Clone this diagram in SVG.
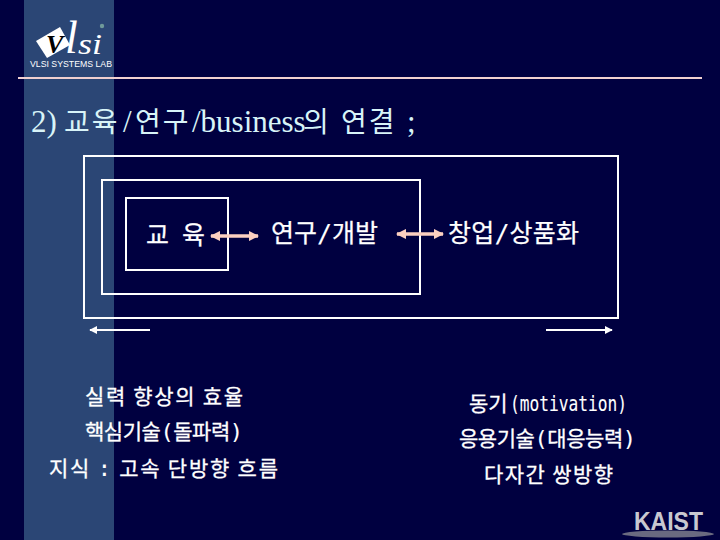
<svg xmlns="http://www.w3.org/2000/svg" width="720" height="540" viewBox="0 0 720 540">
<style>
.k{font-family:"Noto Sans CJK KR","DejaVu Sans",sans-serif;fill:#fff;font-size:25px;stroke:#fff;stroke-width:.25}
.s{font-family:"Noto Sans CJK KR","DejaVu Sans",sans-serif;fill:#fff;font-size:21px;stroke:#fff;stroke-width:.3}
.m{font-family:"DejaVu Sans Mono","Liberation Mono",monospace;font-size:22px;stroke-width:.1}
.n{font-family:"DejaVu Sans Mono","Liberation Mono",monospace;font-size:25px;stroke-width:.1}
.t{font-family:"Liberation Serif","Noto Sans CJK KR",serif;fill:#d8f4f8;font-size:31px}
.h{font-family:"Noto Sans CJK KR","DejaVu Sans",sans-serif;font-size:28px;letter-spacing:2px}
.b{fill:none;stroke:#fff;stroke-width:2}
.p{stroke:#fcd0c0;stroke-width:3.5;fill:none}
.w{stroke:#fff;stroke-width:2;fill:none}
</style>
<defs>
<marker id="pa" viewBox="0 0 10 10" refX="9" refY="5" markerWidth="3" markerHeight="3" markerUnits="strokeWidth" orient="auto-start-reverse"><path d="M0 0L10 5L0 10Z" fill="#fcd0c0"/></marker>
<marker id="wa" viewBox="0 0 10 10" refX="9" refY="5" markerWidth="4" markerHeight="4" markerUnits="strokeWidth" orient="auto"><path d="M0 0L10 5L0 10Z" fill="#fff"/></marker>
</defs>
<rect width="720" height="540" fill="#000040"/>
<rect x="24" y="0" width="90" height="540" fill="#2b4675"/>
<g id="logo">
<polygon points="36,41 60,27 70,45 47,58" fill="#fff"/>
<text x="46" y="53" font-family="Liberation Serif,serif" font-style="italic" font-weight="700" font-size="26" fill="#000">V</text>
<text x="65" y="53" font-family="Liberation Serif,serif" font-style="italic" font-size="46" fill="#fff">l</text>
<text x="78" y="54" font-family="Liberation Serif,serif" font-style="italic" font-size="30" fill="#fff" textLength="24" lengthAdjust="spacingAndGlyphs">si</text>
<circle cx="102" cy="26" r="2.2" fill="#6f9a9a"/>
<text x="30" y="67" font-family="Liberation Sans,sans-serif" font-size="9" fill="#fff" textLength="82" lengthAdjust="spacingAndGlyphs">VLSI SYSTEMS LAB</text>
</g>
<line x1="18" y1="78" x2="702" y2="78" stroke="#f0d0d0" stroke-width="2"/>
<text id="title" class="t" x="31" y="132">2) <tspan class="h" x="64">교육</tspan><tspan x="123">/</tspan><tspan class="h" x="135">연구</tspan><tspan x="192">/business</tspan><tspan class="h" x="303">의</tspan><tspan class="h" x="341">연결</tspan><tspan x="407">;</tspan></text>
<g id="outer"><rect class="b" x="84" y="156" width="534" height="162"/></g>
<g id="middle"><rect class="b" x="102" y="180" width="318" height="114"/></g>
<g id="inner"><rect class="b" x="126" y="198" width="102" height="72"/></g>
<g id="labels">
<text class="k" x="146" y="244" textLength="59" lengthAdjust="spacing">교 육</text>
<text class="k" x="271" y="242" textLength="107" lengthAdjust="spacing">연구<tspan class="n">/</tspan>개발</text>
<text class="k" x="448" y="242" textLength="131" lengthAdjust="spacing">창업<tspan class="n">/</tspan>상품화</text>
</g>
<g id="connectors">
<line class="p" x1="211" y1="236" x2="258" y2="236" marker-start="url(#pa)" marker-end="url(#pa)"/>
<line class="p" x1="397" y1="234" x2="443" y2="234" marker-start="url(#pa)" marker-end="url(#pa)"/>
<line class="w" x1="150" y1="330" x2="90" y2="330" marker-end="url(#wa)"/>
<line class="w" x1="546" y1="330" x2="612" y2="330" marker-end="url(#wa)"/>
</g>
<g id="left-notes">
<text class="s" x="85" y="404" textLength="158" lengthAdjust="spacing">실력 향상의 효율</text>
<text class="s" x="85" y="439" textLength="158" lengthAdjust="spacing">핵심기술<tspan class="m">(</tspan>돌파력<tspan class="m">)</tspan></text>
<text class="s" x="49" y="476" textLength="229" lengthAdjust="spacing">지식 <tspan class="m">:</tspan> 고속 단방향 흐름</text>
</g>
<g id="right-notes">
<text class="s" x="469" y="411">동기</text>
<text class="s" x="510" y="411" style="font-family:'DejaVu Sans Mono','Liberation Mono',monospace;stroke-width:.1" textLength="117" lengthAdjust="spacingAndGlyphs">(motivation)</text>
<text class="s" x="459" y="446" textLength="177" lengthAdjust="spacing">응용기술<tspan class="m">(</tspan>대응능력<tspan class="m">)</tspan></text>
<text class="s" x="484" y="482" textLength="129" lengthAdjust="spacing">다자간 쌍방향</text>
</g>
<g id="kaist">
<ellipse cx="668" cy="534" rx="46" ry="3.5" fill="#6a6a80"/>
<text x="634" y="530" font-family="Liberation Sans,sans-serif" font-weight="700" font-size="25" fill="#c8c8d0" textLength="69" lengthAdjust="spacingAndGlyphs">KAIST</text>
</g>
</svg>
